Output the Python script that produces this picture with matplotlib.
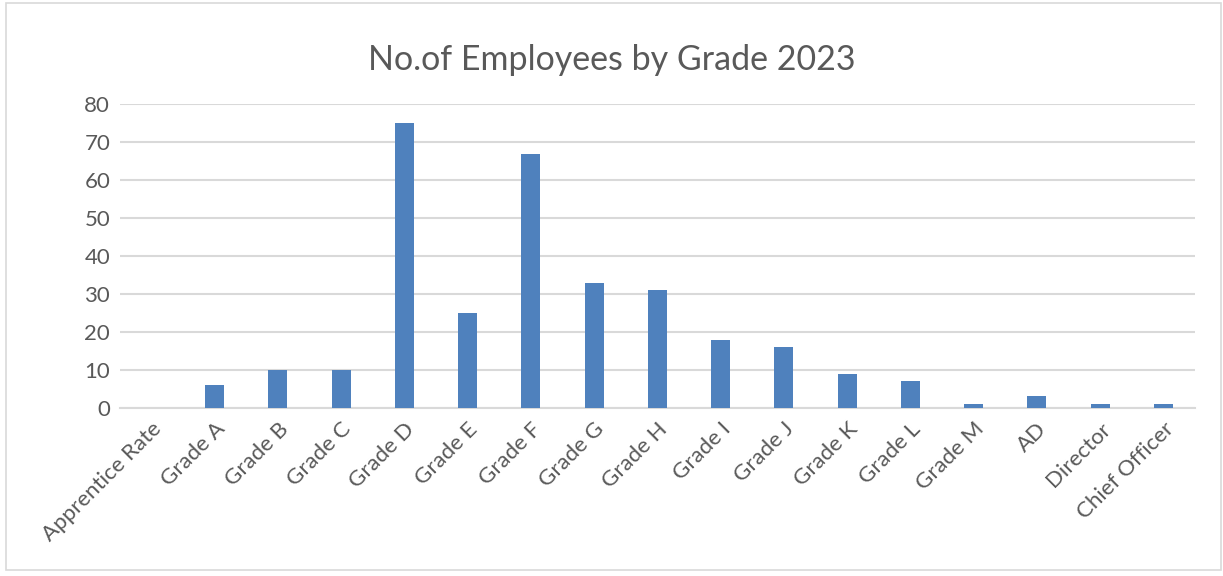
import matplotlib.pyplot as plt
from matplotlib.patches import Rectangle

grades = ["Apprentice Rate", "Grade A", "Grade B", "Grade C", "Grade D", "Grade E",
          "Grade F", "Grade G", "Grade H", "Grade I", "Grade J", "Grade K",
          "Grade L", "Grade M", "AD", "Director", "Chief Officer"]
employees = [0, 6, 10, 10, 75, 25, 67, 33, 31, 18, 16, 9, 7, 1, 3, 1, 1]
yticks = [0, 10, 20, 30, 40, 50, 60, 70, 80]

plt.rcParams['font.family'] = ['Lato', 'DejaVu Sans']
text_col = '#595959'
grid_col = '#d9d9d9'

fig = plt.figure(figsize=(12.23, 5.76), dpi=100)
ax = fig.add_axes([0.098, 0.292, 0.879, 0.527])

x = range(len(grades))
ax.bar(x, employees, width=0.3, color='#4f81bd', zorder=3)

ax.set_ylim(0, 80)
ax.set_xlim(-0.5, len(grades) - 0.5)
ax.set_yticks(yticks)
ax.set_yticklabels([str(v) for v in yticks], fontsize=16, color=text_col)
ax.set_xticks(list(x))
ax.set_xticklabels(grades, rotation=45, ha='right', rotation_mode='anchor',
                   fontsize=16, color=text_col)
ax.tick_params(axis='y', length=0, pad=7)
ax.tick_params(axis='x', length=0, pad=8)
ax.yaxis.grid(True, color=grid_col, linewidth=1.5, zorder=0)
for s in ['top', 'right', 'left']:
    ax.spines[s].set_visible(False)
ax.spines['bottom'].set_color(grid_col)
ax.spines['bottom'].set_linewidth(1.5)

fig.text(0.5, 0.895, "No.of Employees by Grade 2023", ha='center', va='center',
         fontsize=24.5, color=text_col)

fig.patches.append(Rectangle((0.005, 0.01), 0.993, 0.985, transform=fig.transFigure,
                             fill=False, edgecolor='#d9d9d9', linewidth=1.2))

fig.savefig("out.png", dpi=100)
